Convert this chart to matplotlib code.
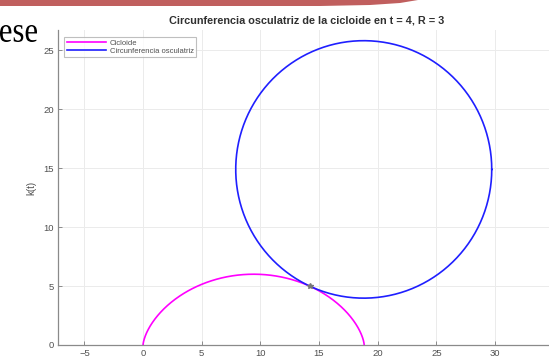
import numpy as np
import matplotlib.pyplot as plt
from matplotlib.patches import Polygon, PathPatch
from matplotlib.textpath import TextPath
from matplotlib.font_manager import FontProperties
from matplotlib.transforms import Affine2D

# cycloid radius and the parameter value where the osculating circle touches
R = 3
t_point = 4
x_ticks = [-5, 0, 5, 10, 15, 20, 25, 30]
y_ticks = [0, 5, 10, 15, 20, 25]
series_names = ["Cicloide", "Circunferencia osculatriz"]
series_colors = ["#ff00ff", "#1f1fff"]

W, H = 549, 359
plt.rcParams['font.family'] = ['Liberation Sans', 'DejaVu Sans']

# cycloid x = R(t - sin t), y = R(1 - cos t)
t = np.linspace(0, 2 * np.pi, 400)
xc = R * (t - np.sin(t))
yc = R * (1 - np.cos(t))

# point, tangent, radius of curvature at t_point
px0 = R * (t_point - np.sin(t_point))
py0 = R * (1 - np.cos(t_point))
dx = R * (1 - np.cos(t_point))
dy = R * np.sin(t_point)
speed = np.hypot(dx, dy)
rho = 4 * R * abs(np.sin(t_point / 2))
nx, ny = -dy / speed, dx / speed
cx, cy = px0 + rho * nx, py0 + rho * ny
th = np.linspace(0, 2 * np.pi, 400)
xo = cx + rho * np.cos(th)
yo = cy + rho * np.sin(th)

fig = plt.figure(figsize=(W / 100, H / 100), dpi=100)
ax = fig.add_axes([58 / W, (H - 345) / H, 498 / W, 315 / H])

ax.plot(xc, yc, color=series_colors[0], lw=1.2, label=series_names[0])
ax.plot(xo, yo, color=series_colors[1], lw=1.2, label=series_names[1])
ax.plot([px0], [py0], marker='*', color='#777777', ms=4, lw=0)

ax.set_xlim(-7.25, 35.2)
ax.set_ylim(0, 26.7)
ax.set_xticks(x_ticks)
ax.set_yticks(y_ticks)
ax.grid(True, color='#ebebeb', lw=0.7)
ax.set_axisbelow(True)
for side in ['top', 'right']:
    ax.spines[side].set_visible(False)
for side in ['left', 'bottom']:
    ax.spines[side].set_color('#8a8a8a')
    ax.spines[side].set_linewidth(0.9)
ax.tick_params(direction='in', length=3, width=0.7, color='#8a8a8a',
               labelsize=6.8, labelcolor='#505050')
ax.tick_params(axis='x', pad=3)
ax.tick_params(axis='y', pad=3)

ax.set_title("Circunferencia osculatriz de la cicloide en t = 4, R = 3",
             fontsize=7.8, fontweight='bold', color='#303030', pad=5)
ax.set_ylabel("k(t)", fontsize=7, color='#505050', labelpad=5,
              family='Liberation Sans')

leg = ax.legend(loc='upper left', bbox_to_anchor=(0.013, 0.978), borderaxespad=0,
                fontsize=5.5, fancybox=False, edgecolor='#b0b0b0', handlelength=5.2,
                handletextpad=0.4, borderpad=0.3, labelspacing=0.1)
leg.get_frame().set_linewidth(0.8)
for txt in leg.get_texts():
    txt.set_color('#505050')


def to_fig(x, y):
    return x / W, 1 - y / H


# red banner along the top edge
band = [to_fig(0, 0), to_fig(418, 0), to_fig(400, 3), to_fig(370, 5),
        to_fig(320, 6), to_fig(0, 6)]
fig.add_artist(Polygon(band, closed=True, transform=fig.transFigure,
                       facecolor='#c05f5e', edgecolor='none'))

# fragment of a word at the top left
tp = TextPath((0, 0), "ese", size=1, prop=FontProperties(family='Liberation Serif'))
ext = tp.get_extents()
sx = 37 / ext.width
sy = 17 / ext.height
word_tr = (Affine2D().translate(-ext.x1, -ext.y0).scale(sx, sy).translate(37, H - 42)
           + Affine2D().scale(1 / W, 1 / H) + fig.transFigure)
fig.add_artist(PathPatch(tp, transform=word_tr, facecolor='black', edgecolor='none'))

fig.savefig("out.png", dpi=100)
